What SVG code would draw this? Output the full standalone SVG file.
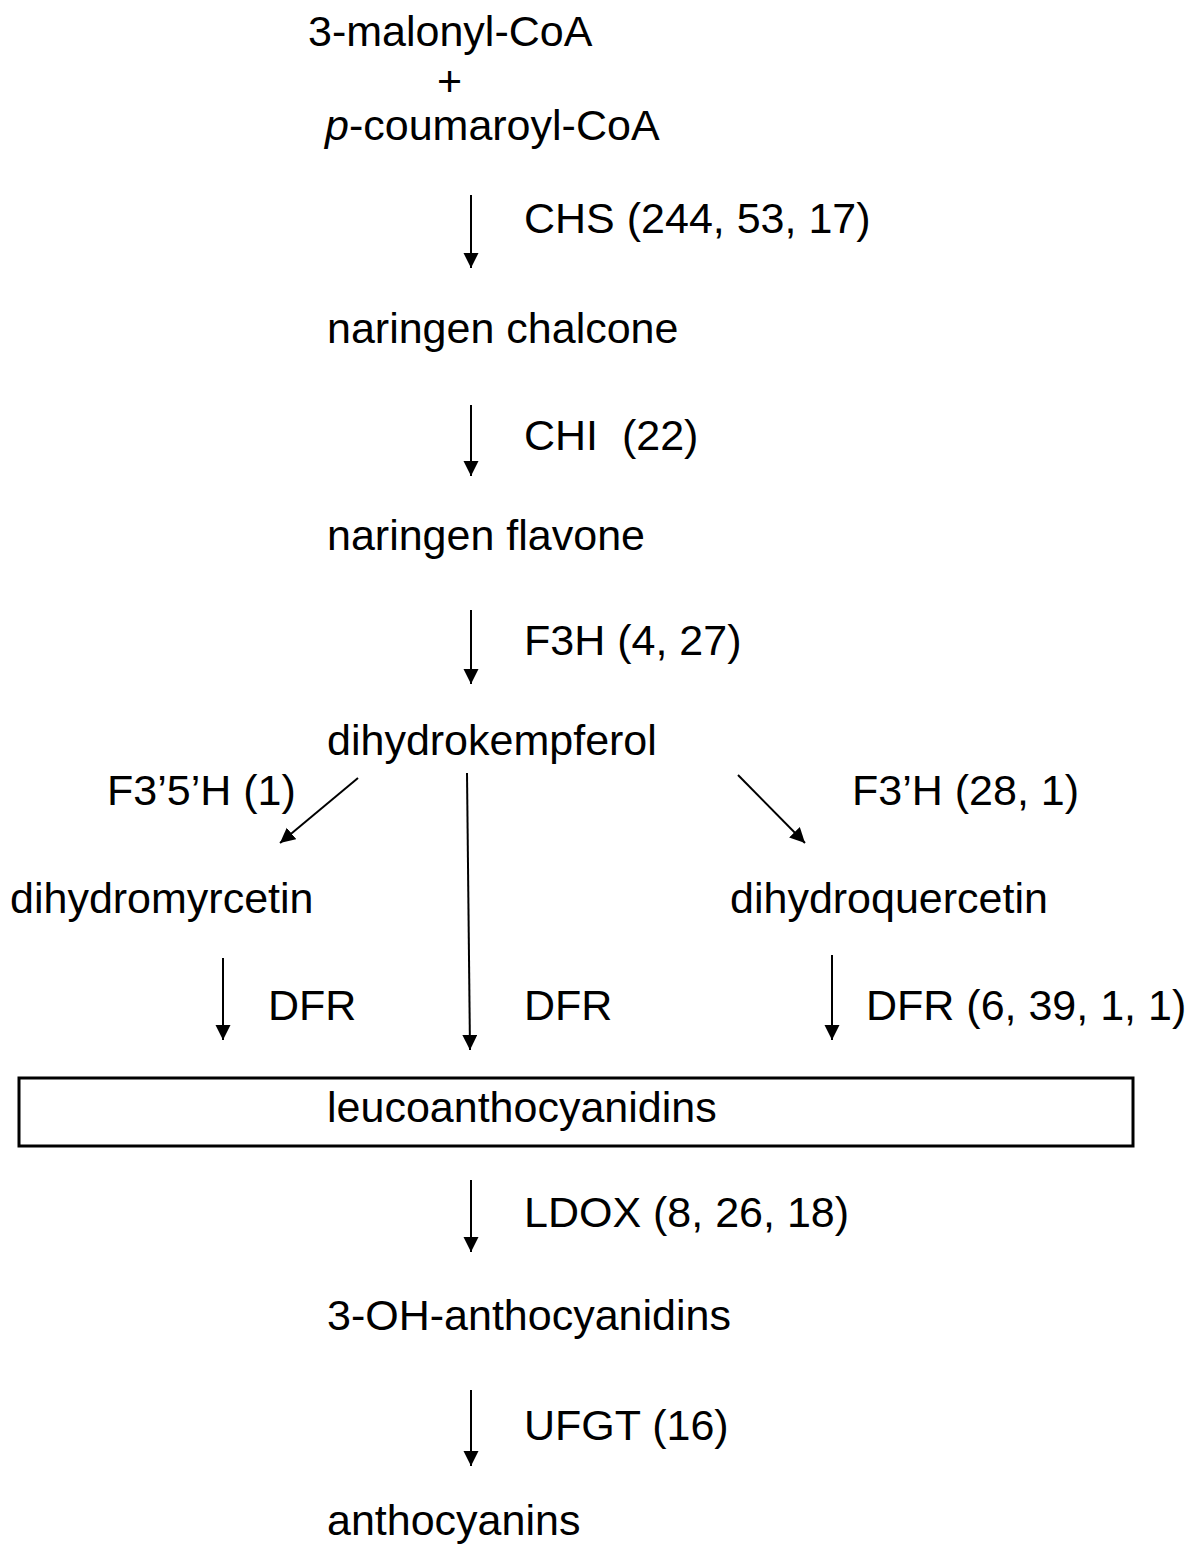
<svg xmlns="http://www.w3.org/2000/svg" width="1200" height="1553" viewBox="0 0 1200 1553">
<style>
text{font-family:"Liberation Sans",Arial,sans-serif;font-size:43px;fill:#000;white-space:pre}
.c line{stroke:#000;stroke-width:2;marker-end:url(#ah)}
</style>
<defs>
<marker id="ah" markerUnits="userSpaceOnUse" markerWidth="16" markerHeight="16" refX="15" refY="7.5" orient="auto">
<path d="M0,0 L15,7.5 L0,15 z" fill="#000"/>
</marker>
</defs>
<rect width="1200" height="1553" fill="#fff"/>
<g id="n1"><text x="308" y="46">3-malonyl-CoA</text><text x="437" y="96">+</text><text x="325" y="140"><tspan font-style="italic">p</tspan>-coumaroyl-CoA</text></g>
<g id="n2"><text x="327" y="343">naringen chalcone</text></g>
<g id="n3"><text x="327" y="550">naringen flavone</text></g>
<g id="n4"><text x="327" y="755">dihydrokempferol</text></g>
<g id="n5"><text x="10" y="913">dihydromyrcetin</text></g>
<g id="n6"><text x="730" y="913">dihydroquercetin</text></g>
<g id="n7"><rect x="19" y="1078" width="1114" height="68" fill="none" stroke="#000" stroke-width="3"/><text x="327" y="1122">leucoanthocyanidins</text></g>
<g id="n8"><text x="327" y="1330">3-OH-anthocyanidins</text></g>
<g id="n9"><text x="327" y="1535">anthocyanins</text></g>
<g id="labels">
<text x="524" y="233">CHS (244, 53, 17)</text>
<text x="524" y="450" xml:space="preserve">CHI&#160; (22)</text>
<text x="524" y="655">F3H (4, 27)</text>
<text x="107" y="805">F3’5’H (1)</text>
<text x="852" y="805">F3’H (28, 1)</text>
<text x="268" y="1020">DFR</text>
<text x="524" y="1020">DFR</text>
<text x="866" y="1020">DFR (6, 39, 1, 1)</text>
<text x="524" y="1227">LDOX (8, 26, 18)</text>
<text x="524" y="1440">UFGT (16)</text>
</g>
<g id="connectors" class="c">
<line x1="471" y1="195" x2="471" y2="268"/>
<line x1="471" y1="405" x2="471" y2="476"/>
<line x1="471" y1="610" x2="471" y2="684"/>
<line x1="358" y1="778" x2="280" y2="843"/>
<line x1="467" y1="773" x2="470" y2="1050"/>
<line x1="738" y1="775" x2="805" y2="843"/>
<line x1="223" y1="958" x2="223" y2="1040"/>
<line x1="832" y1="955" x2="832" y2="1040"/>
<line x1="471" y1="1180" x2="471" y2="1252"/>
<line x1="471" y1="1390" x2="471" y2="1466"/>
</g>
</svg>
